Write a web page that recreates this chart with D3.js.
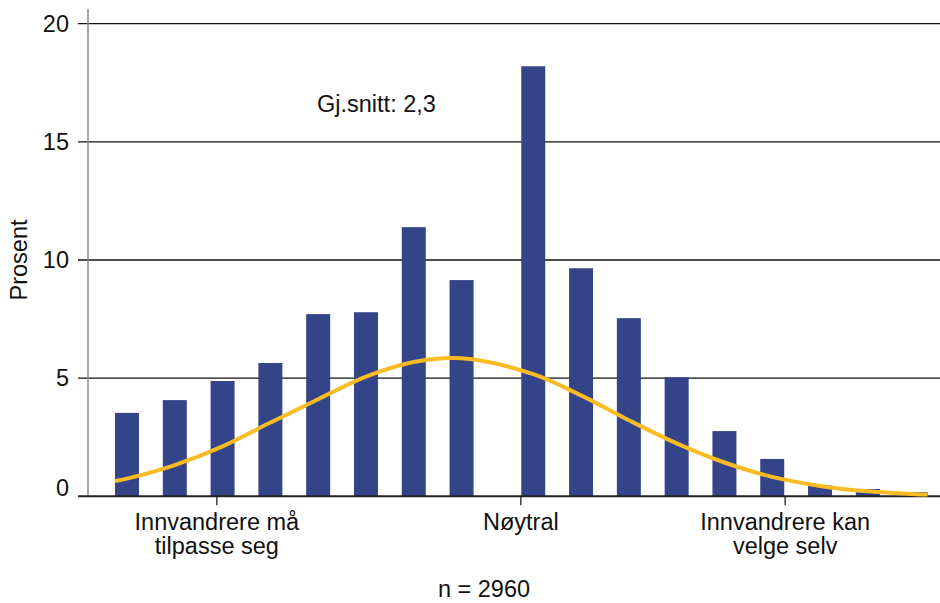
<!DOCTYPE html>
<html>
<head>
<meta charset="utf-8">
<script src="https://cdn.jsdelivr.net/npm/d3@7"></script>
<style>
body { margin:0; background:#fff; }
text { font-family: "Liberation Sans", Arial, sans-serif; fill:#111; }
</style>
</head>
<body>
<div id="canvas"></div>
<script>
// answer steps, left side = "må tilpasse seg", index 8 = neutral
var steps = d3.range(17);
var shares = [3.53, 4.07, 4.88, 5.64, 7.71, 7.79, 11.39, 9.15, 18.2,
              9.65, 7.54, 5.04, 2.76, 1.58, 0.46, 0.31, 0.18];
// normal curve at each bar
var fitted = [0.75, 1.32, 2.11, 3.12, 4.11, 5.06, 5.68, 5.84, 5.17,
              4.27, 3.22, 2.24, 1.43, 0.82, 0.44, 0.21, 0.09];
var fitStart = 0.65, fitEnd = 0.08;
var yTicks = [0, 5, 10, 15, 20];
var xTickAt = [1.88, 8.24, 13.77];
var xTickLabels = [['Innvandrere må', 'tilpasse seg'], ['Nøytral'], ['Innvandrere kan', 'velge selv']];
var meanLabel = 'Gj.snitt: 2,3';
var nLabel = 'n = 2960';

var W = 940, H = 603;
var m = {t:23.7, r:0, b:H-496.3, l:88};

var svg = d3.select('#canvas').append('svg')
    .attr('width', W).attr('height', H);

// neutral bar sits half a step further right
function pos(i){ return i + (i >= 8 ? 0.5 : 0); }

var scaleX = d3.scaleLinear().domain([-0.816, 17.01]).range([m.l, W - m.r]);
var scaleY = d3.scaleLinear().domain([0, 20]).range([H - m.b, m.t]);
var barW = 24;

// gridlines
svg.append('g').selectAll('line')
    .data(yTicks.filter(function(d){ return d > 0; }))
    .enter().append('line')
    .attr('x1', 78).attr('x2', W)
    .attr('y1', function(d){ return scaleY(d); })
    .attr('y2', function(d){ return scaleY(d); })
    .style('stroke', '#111').style('stroke-width', 1.3);

svg.append('g').selectAll('text')
    .data(yTicks)
    .enter().append('text')
    .attr('x', 69)
    .attr('y', function(d){ return scaleY(d) + (d === 0 ? 0 : 8); })
    .attr('text-anchor', 'end')
    .style('font-size', '23.5px')
    .text(function(d){ return d; });

// bars
svg.append('g').selectAll('rect')
    .data(steps)
    .enter().append('rect')
    .attr('x', function(i){ return scaleX(pos(i)) - barW/2; })
    .attr('y', function(i){ return scaleY(shares[i]); })
    .attr('width', barW)
    .attr('height', function(i){ return scaleY(0) - scaleY(shares[i]); })
    .style('fill', '#334488');

// axes
svg.append('line')
    .attr('x1', m.l).attr('x2', m.l)
    .attr('y1', 9).attr('y2', scaleY(0))
    .style('stroke', '#888').style('stroke-width', 1.5);
svg.append('line')
    .attr('x1', 78).attr('x2', W)
    .attr('y1', scaleY(0)).attr('y2', scaleY(0))
    .style('stroke', '#222').style('stroke-width', 2);

svg.append('g').selectAll('line')
    .data(xTickAt)
    .enter().append('line')
    .attr('x1', function(d){ return scaleX(d); })
    .attr('x2', function(d){ return scaleX(d); })
    .attr('y1', scaleY(0)).attr('y2', scaleY(0) + 9)
    .style('stroke', '#222').style('stroke-width', 1.3);

// fitted curve
var pts = [[scaleX(pos(0)) - barW/2, scaleY(fitStart)]];
steps.forEach(function(i){ pts.push([scaleX(pos(i)), scaleY(fitted[i])]); });
pts.push([scaleX(pos(16)) + barW/2, scaleY(fitEnd)]);

svg.append('path')
    .attr('d', d3.line().curve(d3.curveCatmullRom)(pts))
    .style('fill', 'none')
    .style('stroke', '#fbbb22')
    .style('stroke-width', 4);

// x labels
var xl = svg.append('g').selectAll('text')
    .data(xTickLabels)
    .enter().append('text')
    .attr('text-anchor', 'middle')
    .style('font-size', '23.5px');
xl.selectAll('tspan')
    .data(function(d, i){ return d.map(function(s){ return {s:s, i:i}; }); })
    .enter().append('tspan')
    .attr('x', function(d){ return scaleX(xTickAt[d.i]); })
    .attr('y', function(d, j){ return 530 + j*24; })
    .text(function(d){ return d.s; });

svg.append('text')
    .attr('transform', 'translate(27,' + ((scaleY(0) + scaleY(20))/2) + ') rotate(-90)')
    .attr('text-anchor', 'middle')
    .style('font-size', '23.5px')
    .text('Prosent');

svg.append('text')
    .attr('x', 317).attr('y', 112)
    .style('font-size', '23.5px')
    .text(meanLabel);

svg.append('text')
    .attr('x', 484).attr('y', 597)
    .attr('text-anchor', 'middle')
    .style('font-size', '23.5px')
    .text(nLabel);
</script>
</body>
</html>
